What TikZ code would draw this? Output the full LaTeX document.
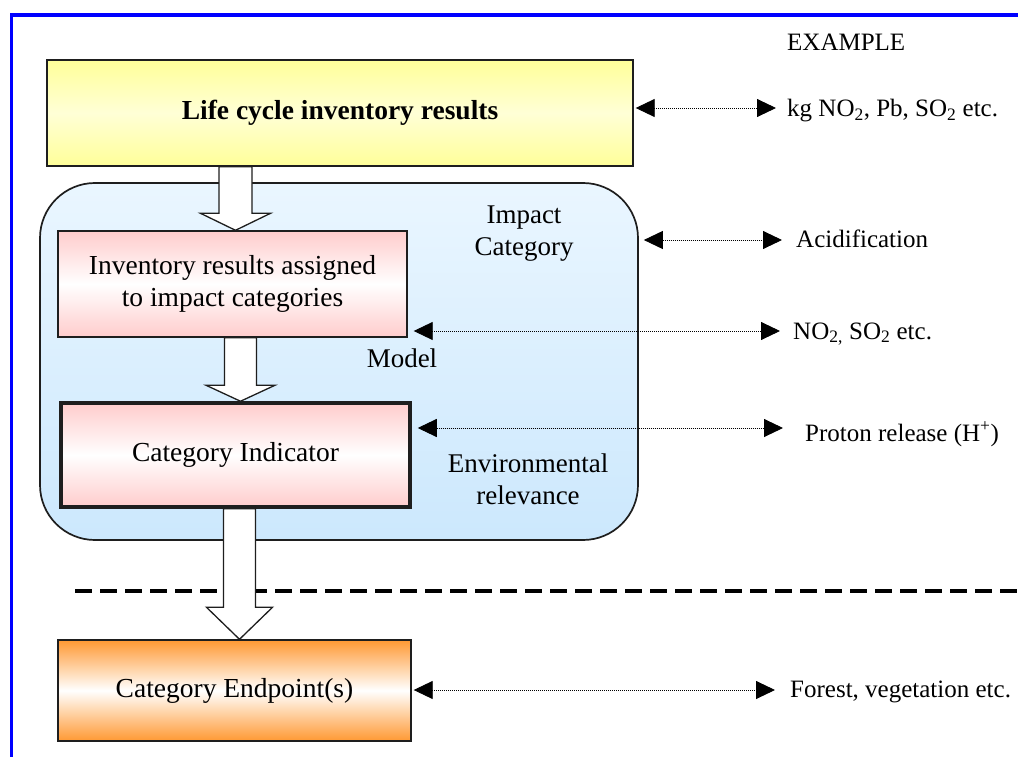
\documentclass[tikz,border=0pt]{standalone}
\usepackage{fontspec}
\setmainfont{Liberation Serif}
\usetikzlibrary{arrows.meta,calc}

\definecolor{frameblue}{RGB}{0,0,255}
\definecolor{lciyellow}{RGB}{255,255,153}
\definecolor{lcilight}{RGB}{255,255,214}
\definecolor{pinkbox}{RGB}{255,204,204}
\definecolor{orangebox}{RGB}{255,153,51}
\definecolor{bluetop}{RGB}{234,246,255}
\definecolor{bluebottom}{RGB}{204,232,253}
\definecolor{edge}{RGB}{30,30,30}

% white block arrow: #1 start (only its y is used), #2 tip,
% #3 half shaft width, #4 half head width, #5 head length
\newcommand{\fatarrow}[5]{%
  \draw[fatarrowstyle]
    ($(#2 |- #1)+(-#3,0)$) -- ($(#2)+(-#3,-#5)$) -- ($(#2)+(-#4,-#5)$)
    -- (#2) -- ($(#2)+(#4,-#5)$) -- ($(#2)+(#3,-#5)$)
    -- ($(#2 |- #1)+(#3,0)$) -- cycle;}

\tikzset{
  box/.style={draw=edge, line width=1.4pt, inner sep=0pt, align=center,
    font=\fontsize{27.5}{32}\selectfont},
  pinkshade/.style={top color=pinkbox, bottom color=pinkbox, middle color=white},
  label/.style={inner sep=0pt, align=center, font=\fontsize{27}{32}\selectfont},
  extext/.style={inner sep=0pt, anchor=base west, font=\fontsize{25}{30}\selectfont},
  fatarrowstyle/.style={draw=edge, line width=1.3pt, fill=white, line join=miter},
  dotlink/.style={black, line width=0.9pt, dash pattern=on 0.9pt off 1.1pt,
    {Triangle[length=19pt,width=18pt]}-{Triangle[length=19pt,width=18pt]}},
}

\begin{document}
\begin{tikzpicture}[x=1pt,y=-1pt]
\useasboundingbox (0,0) rectangle (1018,757);

% outer frame (top and left sides visible)
\draw[frameblue, line width=3.5pt] (11.7,757) -- (11.7,15) -- (1018,15);

% impact category panel
\node[draw=edge, line width=1.7pt, rounded corners=55pt, minimum width=598pt,
      minimum height=357pt, top color=bluetop, bottom color=bluebottom]
      (ic) at (339,361.5) {};

% main boxes
\node[box, minimum width=586pt, minimum height=106pt,
      top color=lciyellow, bottom color=lciyellow, middle color=lcilight,
      font=\fontsize{27.5}{32}\selectfont\bfseries]
      (lci) at (340,113) {Life cycle inventory results};
\node[box, pinkshade, minimum width=349pt, minimum height=106pt]
      (inv) at (232.5,284) {Inventory results assigned\\to impact categories};
\node[box, pinkshade, line width=3.5pt, minimum width=349pt, minimum height=104pt]
      (ci) at (235.5,455) {Category Indicator};
\node[box, top color=orangebox, bottom color=orangebox, middle color=white,
      minimum width=353pt, minimum height=101pt]
      (ep) at (234.5,690.5) {Category Endpoint(s)};

% labels inside the panel
\node[label] (lbimpact) at (524,234) {Impact\\Category};
\node[label, anchor=base] (lbmodel) at (402,367) {Model};
\node[label] (lbenv) at (528,479) {Environmental\\relevance};

% boundary between midpoint and endpoint level
\coordinate (dashL) at (75,591);
\coordinate (dashR) at (1018,591);
\draw[black, line width=4.5pt, dash pattern=on 17pt off 8pt] (dashL) -- (dashR);

% block arrows
\coordinate (tip1) at ([xshift=3pt]inv.north);
\coordinate (tip2) at ([xshift=5pt]ci.north);
\coordinate (tip3) at ([xshift=5pt]ep.north);
\fatarrow{lci.south}{tip1}{16.5}{35}{17}
\fatarrow{inv.south}{tip2}{16}{34.5}{16}
\fatarrow{ci.south}{tip3}{16}{33}{32}

% examples
\node[extext] (exhead) at (787,51) {EXAMPLE};
\node[extext] (ex1) at (787,117) {kg NO\textsubscript{2}, Pb, SO\textsubscript{2} etc.};
\node[extext] (ex2) at (796,247) {Acidification};
\node[extext] (ex3) at (793,339) {NO\textsubscript{2,} SO\textsubscript{2} etc.};
\node[extext] (ex4) at (805,441) {Proton release (H\textsuperscript{+})};
\node[extext] (ex5) at (790,697) {Forest, vegetation etc.};

\coordinate (r1) at (776,108);
\coordinate (r2) at (782,240);
\coordinate (r3) at (780,331);
\coordinate (r4) at (783,428);
\coordinate (r5) at (775,690);

\draw[dotlink] ([xshift=2pt]lci.east |- r1) -- (r1);
\draw[dotlink] ([xshift=5pt]ic.east |- r2) -- (r2);
\draw[dotlink] ([xshift=6pt]inv.east |- r3) -- (r3);
\draw[dotlink] ([xshift=6pt]ci.east |- r4) -- (r4);
\draw[dotlink] ([xshift=2pt]ep.east |- r5) -- (r5);
\end{tikzpicture}
\end{document}
